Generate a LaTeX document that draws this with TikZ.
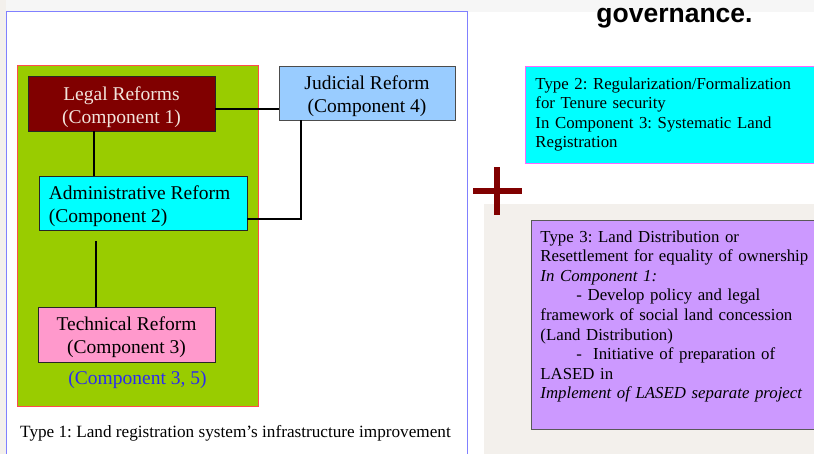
\documentclass[tikz,border=0pt]{standalone}
\usepackage{fontspec}
\setmainfont{Liberation Serif}
\newfontfamily\headfont{Liberation Sans}
\frenchspacing
\usetikzlibrary{calc}
\definecolor{frameblue}{HTML}{8080FF}
\definecolor{leafgreen}{HTML}{99CC00}
\definecolor{legalred}{HTML}{800000}
\definecolor{judblue}{HTML}{99CCFF}
\definecolor{purecyan}{HTML}{00FFFF}
\definecolor{techpink}{HTML}{FF99CC}
\definecolor{typepurple}{HTML}{CC99FF}
\definecolor{comptext}{HTML}{2B2BF0}
\definecolor{bgmap}{HTML}{F3F0EC}
\definecolor{lighttext}{HTML}{F2E4DC}
\definecolor{pinkborder}{HTML}{FF66FF}
\begin{document}
\begin{tikzpicture}[x=1pt,y=-1pt,
  compbox/.style={draw=black!85, line width=0.8pt, inner sep=0pt},
  comptxt/.style={inner sep=0pt, font=\fontsize{19.5}{23}\selectfont, align=center},
  link/.style={line width=1.6pt, black},
  typebox/.style={line width=0.9pt, anchor=west, inner ysep=0pt, inner xsep=10pt, align=left, font=\fontsize{16.8}{19.6}\selectfont}
]
\useasboundingbox (0,0) rectangle (814,454);
% backgrounds
\fill[gray!7] (0,0) rectangle (814,12);
\fill[bgmap] (0,0) rectangle (6,454);
\fill[bgmap] (484,204) rectangle (814,454);
\node[font=\headfont\bfseries\fontsize{26.5}{30}\selectfont, anchor=base, inner sep=0pt] (gov) at (674.5,22.5) {governance.};
% left frame
\draw[frameblue, line width=0.9pt, fill=white] (6,11) rectangle (467,470);
\node[draw=red!70, fill=leafgreen, line width=0.6pt, minimum width=241pt, minimum height=341pt, inner sep=0pt] (green) at (137.5,235.5) {};
\node[compbox, fill=legalred, minimum width=187pt, minimum height=55pt] (legal) at (121.5,103.5) {};
\node[comptxt, text=lighttext] (legaltxt) at ($(legal.center)+(0,3.5)$) {Legal Reforms\\(Component 1)};
\node[compbox, fill=judblue, draw=black!70, minimum width=176pt, minimum height=54pt] (judicial) at (367,93) {};
\node[comptxt] (judtxt) at ($(judicial.center)+(0,3)$) {Judicial Reform\\(Component 4)};
\node[compbox, fill=purecyan, minimum width=208pt, minimum height=54pt] (admin) at (143,203) {};
\node[comptxt, align=left, anchor=west] (admintxt) at ($(admin.west)+(10,3)$) {Administrative Reform\\(Component 2)};
\node[compbox, fill=techpink, minimum width=177pt, minimum height=55pt] (tech) at (126.5,334.5) {};
\node[comptxt] (techtxt) at ($(tech.center)+(0,2.5)$) {Technical Reform\\(Component 3)};
\node[text=comptext, font=\fontsize{19.5}{22}\selectfont, inner sep=0pt] (comp35) at (137.5,380) {(Component 3, 5)};
\node[anchor=base west, inner sep=0pt, font=\fontsize{17.2}{20}\selectfont] (type1) at (20,437) {Type 1: Land registration system’s infrastructure improvement};
% connectors
\coordinate (xa) at (94,0);
\coordinate (xb) at (301,0);
\coordinate (yb) at (0,219);
\coordinate (ya) at (0,109);
\coordinate (xc) at (96,0);
\coordinate (techstart) at (96,241);
\draw[link] (legal.east |- ya) -- (judicial.west |- ya);
\draw[link] (legal.south -| xa) -- (admin.north -| xa);
\draw[link] (judicial.south -| xb) |- (admin.east |- yb);
\draw[link] (techstart) -- (tech.north -| xc);
% plus
\fill[legalred] (473,188) rectangle (522,194.5);
\fill[legalred] (493.5,167) rectangle (500,215);
% type 2
\node[typebox, draw=pinkborder, fill=purecyan, minimum height=97pt, text width=280pt] (type2) at (525,114.5) {Type 2: Regularization/Formalization\\for Tenure security\\In Component 3: Systematic Land\\Registration};
% type 3
\node[typebox, draw=black!65, fill=typepurple, minimum height=209pt, text width=285pt, inner xsep=9pt] (type3) at (531,324.5) {Type 3: Land Distribution or\\Resettlement for equality of ownership\\\textit{In Component 1:}\\\hspace*{36pt}- Develop policy and legal\\framework of social land concession\\(Land Distribution)\\\hspace*{36pt}-\ \ Initiative of preparation of\\LASED in\\\textit{Implement of LASED separate project}\\\mbox{}};
\end{tikzpicture}
\end{document}
